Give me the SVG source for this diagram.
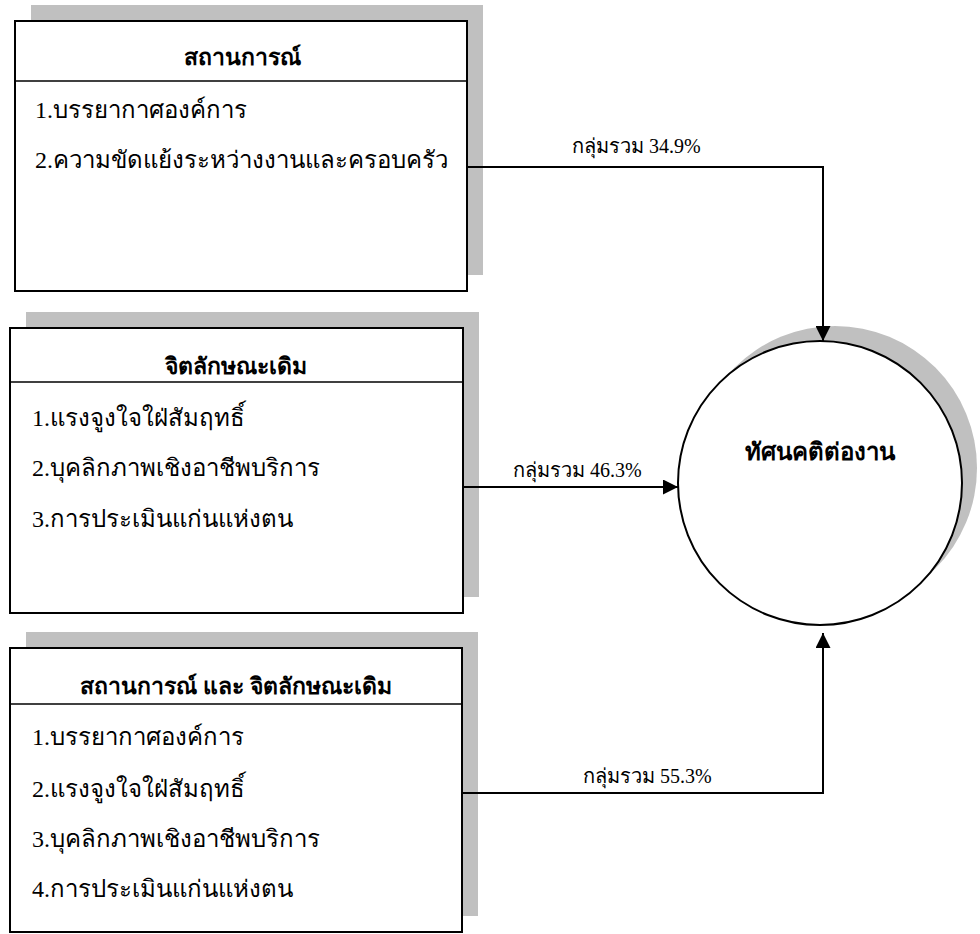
<svg xmlns="http://www.w3.org/2000/svg" width="980" height="934" viewBox="0 0 980 934">
  <style>
    text { font-family: "Liberation Serif", "Noto Sans", "DejaVu Serif", serif; fill: #000; }
    .title { font-size: 23px; font-weight: bold; text-anchor: middle; }
    .item { font-size: 24px; }
    .label { font-size: 20px; }
    .shadow { fill: #c0c0c0; stroke: none; }
    .box { fill: #fff; stroke: #000; stroke-width: 2; }
    .rule { stroke: #000; stroke-width: 1.5; }
    .conn { fill: none; stroke: #000; stroke-width: 2; }
  </style>
  <defs>
    <marker id="arrow" viewBox="0 0 15 15" refX="15" refY="7.5" markerWidth="15" markerHeight="15" markerUnits="userSpaceOnUse" orient="auto">
      <path d="M0,0 L15,7.5 L0,15 Z" fill="#000"/>
    </marker>
  </defs>

  <!-- Situation box -->
  <g id="node-situation">
    <rect class="shadow" x="31" y="5" width="452" height="270"/>
    <rect class="box" x="15" y="21" width="452" height="270"/>
    <line class="rule" x1="15" y1="81" x2="467" y2="81"/>
    <text class="title" x="242" y="65">สถานการณ์</text>
    <text class="item" x="35" y="118">1.บรรยากาศองค์การ</text>
    <text class="item" x="35" y="168">2.ความขัดแย้งระหว่างงานและครอบครัว</text>
  </g>

  <!-- Trait box -->
  <g id="node-trait">
    <rect class="shadow" x="26" y="312" width="453" height="285"/>
    <rect class="box" x="10" y="328" width="453" height="285"/>
    <line class="rule" x1="10" y1="382" x2="463" y2="382"/>
    <text class="title" x="236" y="374">จิตลักษณะเดิม</text>
    <text class="item" x="32" y="426">1.แรงจูงใจใฝ่สัมฤทธิ์</text>
    <text class="item" x="32" y="476">2.บุคลิกภาพเชิงอาชีพบริการ</text>
    <text class="item" x="32" y="527">3.การประเมินแก่นแห่งตน</text>
  </g>

  <!-- Combined box -->
  <g id="node-combined">
    <rect class="shadow" x="26" y="632" width="452" height="284"/>
    <rect class="box" x="10" y="648" width="452" height="284"/>
    <line class="rule" x1="10" y1="704" x2="462" y2="704"/>
    <text class="title" x="236" y="694">สถานการณ์ และ จิตลักษณะเดิม</text>
    <text class="item" x="32" y="745">1.บรรยากาศองค์การ</text>
    <text class="item" x="32" y="797">2.แรงจูงใจใฝ่สัมฤทธิ์</text>
    <text class="item" x="32" y="847">3.บุคลิกภาพเชิงอาชีพบริการ</text>
    <text class="item" x="32" y="897">4.การประเมินแก่นแห่งตน</text>
  </g>

  <!-- Work attitude circle -->
  <g id="node-attitude">
    <circle class="shadow" cx="835" cy="468" r="142"/>
    <circle cx="820" cy="483" r="142" fill="#fff" stroke="#000" stroke-width="2"/>
    <text class="title" x="820" y="460" style="font-size:24px">ทัศนคติต่องาน</text>
  </g>

  <!-- Connectors -->
  <g id="connectors">
    <path class="conn" d="M467,167 H823 V341" marker-end="url(#arrow)"/>
    <path class="conn" d="M463,487 H678" marker-end="url(#arrow)"/>
    <path class="conn" d="M462,793 H823 V633" marker-end="url(#arrow)"/>
    <text class="label" x="572" y="153">กลุ่มรวม 34.9%</text>
    <text class="label" x="513" y="477">กลุ่มรวม 46.3%</text>
    <text class="label" x="583" y="783">กลุ่มรวม 55.3%</text>
  </g>
</svg>
